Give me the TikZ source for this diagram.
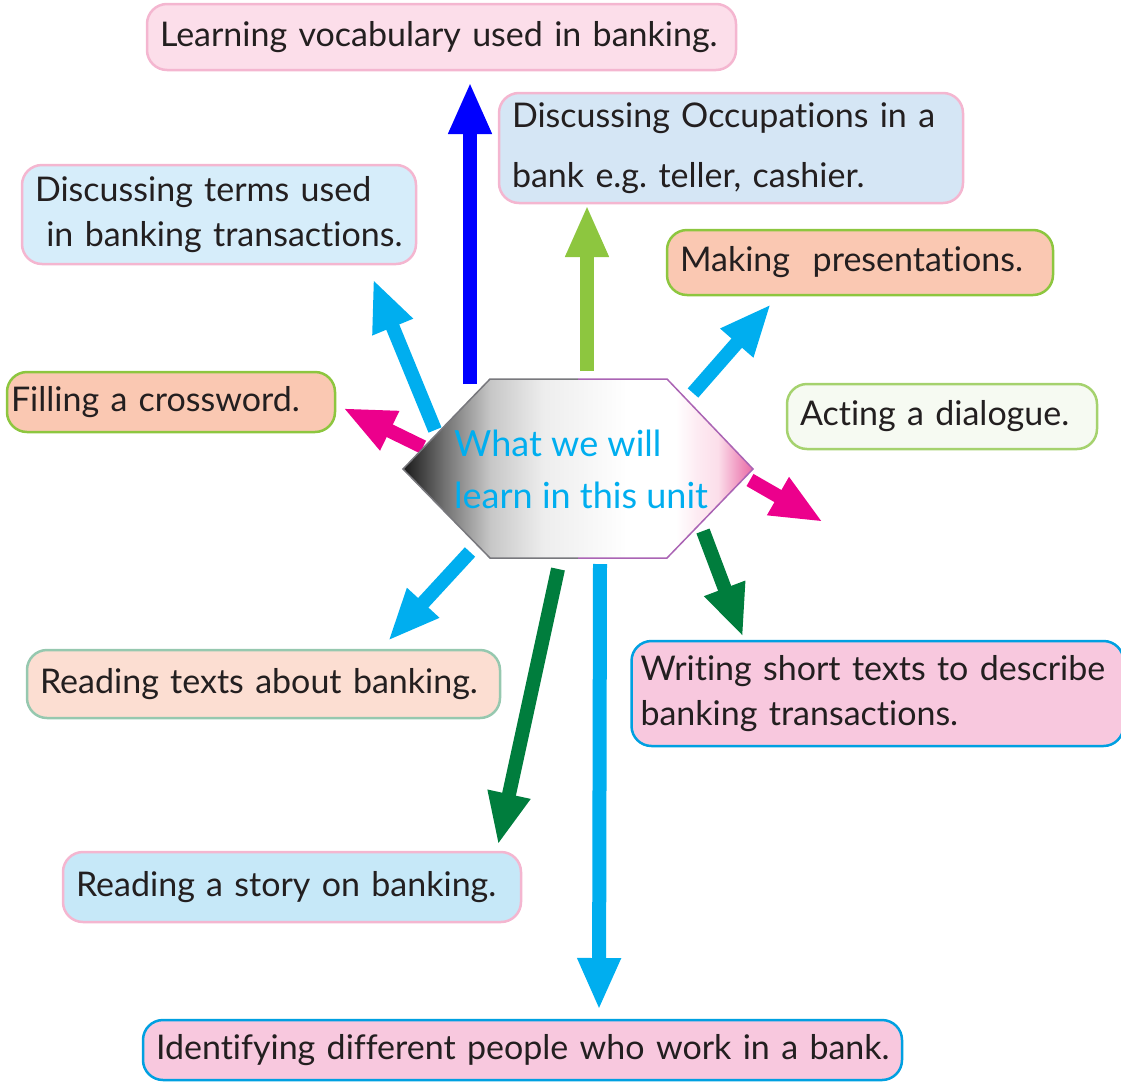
\documentclass[tikz,border=0pt]{standalone}
\usepackage{fontspec}
\setmainfont{Lato}[Ligatures={NoCommon,NoContextual}]
\usetikzlibrary{arrows.meta}
\definecolor{txt}{RGB}{35,31,32}
\definecolor{pinkfill}{RGB}{252,222,234}
\definecolor{pinkline}{RGB}{244,182,208}
\definecolor{bluefillA}{RGB}{213,230,245}
\definecolor{bluefillB}{RGB}{214,237,250}
\definecolor{bluefillC}{RGB}{198,232,248}
\definecolor{salmon}{RGB}{250,200,178}
\definecolor{salmonB}{RGB}{252,222,210}
\definecolor{lgreen}{RGB}{141,198,63}
\definecolor{actfill}{RGB}{246,250,242}
\definecolor{actline}{RGB}{165,210,110}
\definecolor{pinkB}{RGB}{248,200,222}
\definecolor{cyanline}{RGB}{0,160,225}
\definecolor{sage}{RGB}{150,200,175}
\definecolor{arrblue}{RGB}{0,0,255}
\definecolor{arrcyan}{RGB}{0,174,239}
\definecolor{arrmag}{RGB}{236,0,140}
\definecolor{arrdkg}{RGB}{0,125,61}
\definecolor{hexgray}{RGB}{120,120,125}
\definecolor{hexpurple}{RGB}{170,100,180}
\definecolor{hexpink}{RGB}{233,105,165}
\pgfdeclarehorizontalshading{hexshade}{100bp}{
  color(0bp)=(black);
  color(25bp)=(black!90);
  color(31bp)=(black!55);
  color(37.5bp)=(black!22);
  color(45bp)=(black!7);
  color(52bp)=(black!3);
  color(57bp)=(white);
  color(64bp)=(white);
  color(67bp)=(pinkfill!60);
  color(70bp)=(pinkfill);
  color(73bp)=(hexpink!70);
  color(75bp)=(hexpink);
  color(100bp)=(hexpink)}
\tikzset{
  bx/.style={rounded corners=20pt, line width=2.5pt, inner xsep=13pt,
    inner ysep=0pt, align=left, text=txt,
    font=\fontsize{34}{45}\selectfont},
  arr/.style={line width=14pt, -{Triangle[width=40pt,length=52pt]}},
}
\begin{document}
\begin{tikzpicture}[x=1pt,y=-1pt]
\useasboundingbox (0,0) rectangle (1121,1082);

% boxes
\node[bx, fill=pinkfill, draw=pinkline, minimum height=66pt, text width=563pt] (vocab) at (441.5,37) {\mbox{Learning vocabulary used in banking.}};
\node[bx, fill=bluefillA, draw=pinkline, minimum height=110pt, text width=438pt, font=\fontsize{34}{60}\selectfont] (occup) at (731,148) {Discussing Occupations in a\\bank e.g.\ teller, cashier.};
\node[bx, fill=bluefillB, draw=pinkline, minimum height=99pt, text width=368pt] (terms) at (219,214.5) {Discussing terms used\\\ in banking transactions.};
\node[bx, fill=salmon, draw=lgreen, minimum height=65pt, text width=360pt] (present) at (860,262.5) {Making\ \ presentations.};
\node[bx, fill=salmon, draw=lgreen, minimum height=60pt, text width=320pt, inner xsep=4pt] (cross) at (171,402) {Filling a crossword.};
\node[bx, fill=actfill, draw=actline, minimum height=65pt, text width=284pt] (acting) at (942,416.5) {Acting a dialogue.};
\node[bx, fill=pinkB, draw=cyanline, minimum height=105pt, text width=474pt, inner xsep=9pt] (writing) at (877.5,693.5) {\mbox{Writing short texts to describe}\\banking transactions.};
\node[bx, fill=salmonB, draw=sage, minimum height=68pt, text width=447pt] (readtexts) at (263.5,684) {Reading texts about banking.};
\node[bx, fill=bluefillC, draw=pinkline, minimum height=70pt, text width=432pt] (story) at (292,887) {Reading a story on banking.};
\node[bx, fill=pinkB, draw=cyanline, minimum height=60pt, text width=733pt] (identify) at (522.5,1050) {\mbox{Identifying different people who work in a bank.}};

% arrow end points
\coordinate (s1) at (470,384);  \coordinate (e1) at (470,82);
\coordinate (s2) at (587,371);  \coordinate (e2) at (587,205);
\coordinate (s3) at (435,430);  \coordinate (e3) at (373,279);
\coordinate (s4) at (693,393);  \coordinate (e4) at (771,304);
\coordinate (s5) at (423,447);  \coordinate (e5) at (343,408);
\coordinate (s6) at (750,480);  \coordinate (e6) at (823,522);
\coordinate (s7) at (703,531);  \coordinate (e7) at (743,637);
\coordinate (s8) at (470,552);  \coordinate (e8) at (388,641);
\coordinate (s9) at (558,569);  \coordinate (e9) at (498,845);
\coordinate (s10) at (600,564); \coordinate (e10) at (599,1010);

\draw[arr, draw=arrblue, fill=arrblue] (s1) -- (e1);
\draw[arr, draw=lgreen, fill=lgreen] (s2) -- (e2);
\draw[arr, draw=arrcyan, fill=arrcyan] (s3) -- (e3);
\draw[arr, draw=arrcyan, fill=arrcyan] (s4) -- (e4);
\draw[arr, draw=arrmag, fill=arrmag] (s5) -- (e5);
\draw[arr, draw=arrmag, fill=arrmag] (s6) -- (e6);
\draw[arr, draw=arrdkg, fill=arrdkg] (s7) -- (e7);
\draw[arr, draw=arrcyan, fill=arrcyan] (s8) -- (e8);
\draw[arr, draw=arrdkg, fill=arrdkg] (s9) -- (e9);
\draw[arr, draw=arrcyan, fill=arrcyan] (s10) -- (e10);

% central hexagon
\shade[shading=hexshade] (490,379) -- (667,379) -- (753,469) -- (667,558) -- (490,558) -- (403,469) -- cycle;
\draw[hexgray, line width=1.5pt, line join=miter] (578,379) -- (490,379) -- (403,469) -- (490,558) -- (578,558);
\draw[hexpurple, line width=1.5pt, line join=miter] (578,379) -- (667,379) -- (753,469) -- (667,558) -- (578,558);
\node[anchor=west, inner sep=0pt, align=left, text=arrcyan, font=\fontsize{36}{52}\selectfont] (center) at (454,469) {What we will\\learn in this unit};
\end{tikzpicture}
\end{document}
